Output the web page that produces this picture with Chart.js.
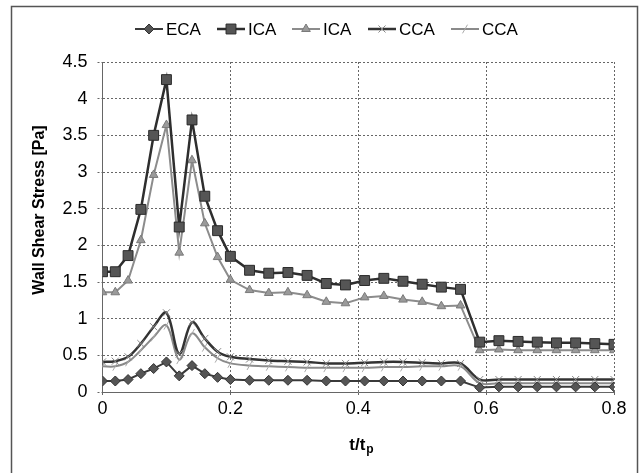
<!DOCTYPE html>
<html>
<head>
<meta charset="utf-8">
<script src="https://cdn.jsdelivr.net/npm/chart.js@4.4.0/dist/chart.umd.min.js"></script>
<style>
  html, body { margin: 0; padding: 0; background: #fff; }
</style>
</head>
<body>
<canvas id="chart-wss" width="642" height="473"></canvas>
<script>
// t/tp sample points (0.02 steps up to 0.2, then 0.03 steps)
var tt = [0, 0.02, 0.04, 0.06, 0.08, 0.10, 0.12, 0.14, 0.16, 0.18, 0.20,
  0.23, 0.26, 0.29, 0.32, 0.35, 0.38, 0.41, 0.44, 0.47, 0.50,
  0.53, 0.56, 0.59, 0.62, 0.65, 0.68, 0.71, 0.74, 0.77, 0.80];

var labels = ["ECA", "ICA", "ICA", "CCA", "CCA"];

var eca = [0.15, 0.15, 0.17, 0.25, 0.32, 0.41, 0.22, 0.36, 0.25, 0.20, 0.17,
  0.16, 0.16, 0.16, 0.16, 0.15, 0.15, 0.15, 0.15, 0.15, 0.15,
  0.15, 0.15, 0.06, 0.07, 0.07, 0.07, 0.07, 0.07, 0.07, 0.07];

var icaA = [1.64, 1.64, 1.86, 2.49, 3.50, 4.26, 2.25, 3.71, 2.67, 2.20, 1.85,
  1.66, 1.62, 1.63, 1.59, 1.48, 1.46, 1.52, 1.55, 1.51, 1.47,
  1.43, 1.40, 0.68, 0.70, 0.69, 0.68, 0.67, 0.67, 0.66, 0.65];

var icaB = [1.36, 1.36, 1.52, 2.07, 2.96, 3.64, 1.90, 3.16, 2.30, 1.84, 1.53,
  1.39, 1.35, 1.36, 1.32, 1.23, 1.21, 1.29, 1.31, 1.26, 1.23,
  1.17, 1.18, 0.57, 0.58, 0.57, 0.57, 0.57, 0.57, 0.57, 0.57];

var ccaA = [0.41, 0.42, 0.48, 0.66, 0.89, 1.08, 0.52, 0.95, 0.73, 0.55, 0.48,
  0.45, 0.43, 0.42, 0.41, 0.39, 0.39, 0.40, 0.41, 0.41, 0.40,
  0.39, 0.39, 0.17, 0.17, 0.17, 0.17, 0.17, 0.17, 0.17, 0.17];

var ccaB = [0.35, 0.35, 0.41, 0.57, 0.75, 0.91, 0.44, 0.80, 0.61, 0.46, 0.39,
  0.36, 0.35, 0.34, 0.33, 0.33, 0.33, 0.33, 0.34, 0.34, 0.35,
  0.35, 0.35, 0.12, 0.12, 0.12, 0.12, 0.12, 0.12, 0.12, 0.12];

var xTicks = [0, 0.2, 0.4, 0.6, 0.8];
var yMax = 4.5;

function pts(vals) {
  return tt.map(function(t, i) { return { x: t, y: vals[i] }; });
}

// plain number labels: 0, 0.5, 1, 1.5 ...
function plain(v) { return String(+v.toFixed(2)); }

var FONT = "'Liberation Sans', Arial, sans-serif";
var gridDash = [2, 2];

// frame around the whole chart + custom legend + axis titles
var decor = {
  id: "decor",
  beforeDraw: function(chart) {
    var c = chart.ctx;
    c.save();
    c.fillStyle = "#fff";
    c.fillRect(0, 0, chart.width, chart.height);
    c.strokeStyle = "#555";
    c.lineWidth = 1.5;
    c.strokeRect(11.5, 6.5, 626, 480);
    c.restore();
  },
  afterDraw: function(chart) {
    var c = chart.ctx;
    c.save();

    // legend: line sample with marker, then label
    var xs = [135, 217, 292, 368, 451];
    var ly = 29;
    c.font = "17px " + FONT;
    c.textBaseline = "middle";
    chart.data.datasets.forEach(function(ds, i) {
      var x0 = xs[i];
      c.strokeStyle = ds.borderColor;
      c.lineWidth = ds.borderWidth;
      c.setLineDash([]);
      c.beginPath();
      c.moveTo(x0, ly);
      c.lineTo(x0 + 28, ly);
      c.stroke();
      c.fillStyle = ds.pointBackgroundColor;
      c.strokeStyle = ds.pointBorderColor;
      c.lineWidth = ds.pointBorderWidth;
      Chart.helpers.drawPoint(c, {
        pointStyle: ds.pointStyle,
        radius: ds.pointRadius,
        rotation: ds.pointRotation || 0,
        borderWidth: ds.pointBorderWidth
      }, x0 + 14, ly);
      c.fillStyle = "#000";
      c.textAlign = "left";
      c.fillText(ds.label, x0 + 31, ly + 1);
    });

    // x title t/tp with subscript
    c.fillStyle = "#000";
    c.font = "bold 17px " + FONT;
    c.textAlign = "left";
    c.textBaseline = "alphabetic";
    var main = "t/t";
    var w = c.measureText(main).width;
    c.font = "bold 12px " + FONT;
    var ws = c.measureText("p").width;
    var tx = 361 - (w + ws) / 2;
    c.font = "bold 17px " + FONT;
    c.fillText(main, tx, 450);
    c.font = "bold 12px " + FONT;
    c.fillText("p", tx + w + 1, 453);

    // y title
    c.translate(40, 210);
    c.rotate(-Math.PI / 2);
    c.font = "bold 16px " + FONT;
    c.textAlign = "center";
    c.textBaseline = "middle";
    c.fillText("Wall Shear Stress [Pa]", 0, 0);
    c.restore();
  }
};

var ctxWss = document.getElementById("chart-wss").getContext("2d");
var chartWss = new Chart(ctxWss, {
  type: "line",
  data: {
    datasets: [
      {
        label: labels[0], data: pts(eca),
        borderColor: "#3a3a3a", borderWidth: 2,
        pointStyle: "rectRot", pointRadius: 5,
        pointBackgroundColor: "#555", pointBorderColor: "#333", pointBorderWidth: 1,
        tension: 0
      },
      {
        label: labels[1], data: pts(icaA),
        borderColor: "#2e2e2e", borderWidth: 2.5,
        pointStyle: "rect", pointRadius: 7,
        pointBackgroundColor: "#555", pointBorderColor: "#2a2a2a", pointBorderWidth: 1,
        tension: 0
      },
      {
        label: labels[2], data: pts(icaB),
        borderColor: "#8c8c8c", borderWidth: 2,
        pointStyle: "triangle", pointRadius: 5,
        pointBackgroundColor: "#9a9a9a", pointBorderColor: "#7a7a7a", pointBorderWidth: 1,
        tension: 0
      },
      {
        label: labels[3], data: pts(ccaA),
        borderColor: "#333", borderWidth: 2.5,
        pointStyle: "crossRot", pointRadius: 5,
        pointBackgroundColor: "#888", pointBorderColor: "#888", pointBorderWidth: 1,
        tension: 0.35
      },
      {
        label: labels[4], data: pts(ccaB),
        borderColor: "#8a8a8a", borderWidth: 2,
        pointStyle: "line", pointRadius: 5, pointRotation: -60,
        pointBackgroundColor: "#aaa", pointBorderColor: "#aaa", pointBorderWidth: 1,
        tension: 0.35
      }
    ]
  },
  options: {
    responsive: false,
    animation: false,
    layout: { padding: { top: 62, right: 28, left: 0, bottom: 0 } },
    plugins: {
      legend: { display: false },
      tooltip: { enabled: false }
    },
    scales: {
      x: {
        type: "linear",
        min: 0, max: 0.8,
        afterFit: function(s) { s.height = 81; },
        afterBuildTicks: function(s) { s.ticks = xTicks.map(function(v) { return { value: v }; }); },
        grid: { color: "#666", lineWidth: 1, tickLength: 5, tickBorderDash: gridDash },
        border: { color: "#666", dash: gridDash },
        ticks: { color: "#000", font: { family: FONT, size: 18 }, padding: 1, maxRotation: 0, callback: plain }
      },
      y: {
        min: 0, max: yMax,
        afterFit: function(s) { s.width = 102.5; },
        grid: { color: "#666", lineWidth: 1, tickLength: 5, tickBorderDash: gridDash },
        border: { color: "#666", dash: gridDash },
        ticks: { stepSize: 0.5, color: "#000", font: { family: FONT, size: 18 }, padding: 10, callback: plain }
      }
    }
  },
  plugins: [decor]
});
</script>
</body>
</html>
